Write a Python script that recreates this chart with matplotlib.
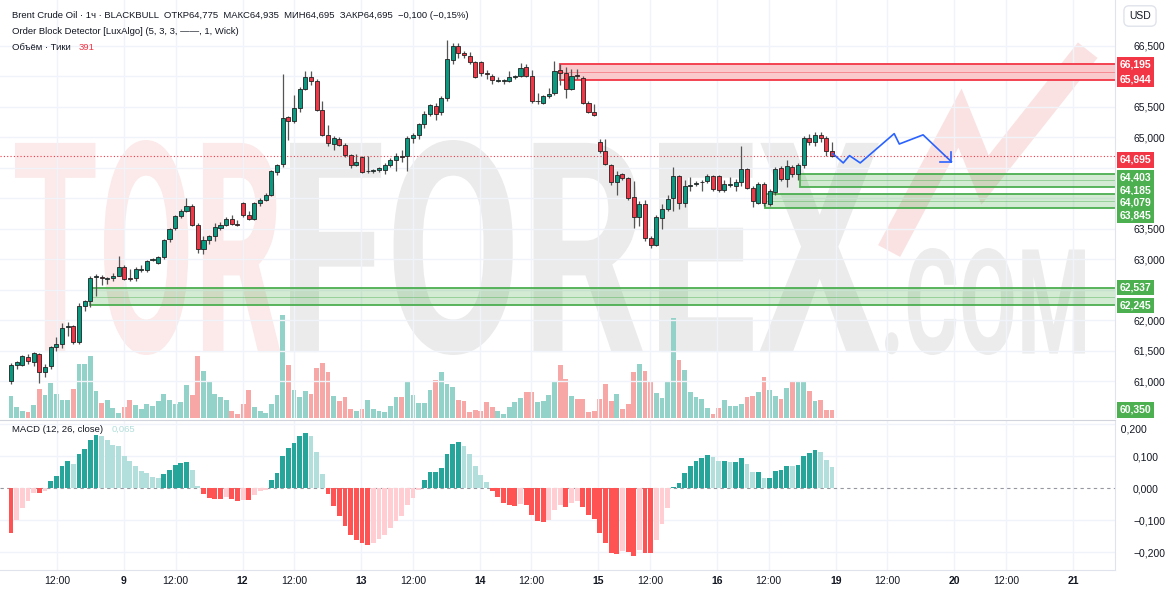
import matplotlib
matplotlib.use("Agg")
import matplotlib.pyplot as plt
import numpy as np
from matplotlib.textpath import TextPath
from matplotlib.patches import PathPatch, Rectangle
from matplotlib.font_manager import FontProperties
from matplotlib.transforms import Affine2D, blended_transform_factory
from matplotlib.lines import Line2D

# ---------------- data ----------------
opens = [61.00,61.27,61.27,61.40,61.31,61.45,61.15,61.26,61.57,61.62,61.89,61.91,61.65,62.23,62.31,62.71,62.71,62.68,62.69,62.73,
         62.88,62.69,62.69,62.83,62.82,62.99,62.94,63.04,63.33,63.51,63.71,63.79,63.88,63.57,63.17,63.32,63.38,63.51,63.57,63.66,
         63.58,63.92,63.73,63.66,63.93,63.98,64.06,64.43,64.57,65.33,65.26,65.48,65.79,65.99,65.93,65.44,65.04,64.89,64.98,64.88,
         64.71,64.55,64.68,64.44,64.44,64.46,64.47,64.55,64.63,64.69,64.69,64.99,65.04,65.21,65.39,65.52,65.41,65.64,66.27,66.49,
         66.38,66.34,66.23,66.23,66.06,66.01,65.93,65.92,65.92,65.99,66.00,66.15,66.01,65.59,65.57,65.67,65.72,66.10,66.05,65.79,
         66.02,65.97,65.56,65.42,64.93,64.78,64.55,64.26,64.40,64.33,64.02,63.70,63.91,63.35,63.24,63.68,63.82,64.00,64.36,63.92,
         64.20,64.24,64.26,64.28,64.36,64.36,64.13,64.22,64.20,64.26,64.48,64.17,63.92,64.24,63.91,64.11,64.50,64.31,64.52,64.40,
         64.55,64.99,64.93,65.04,64.99,64.77]
closes = [61.27,61.31,61.41,61.33,61.46,61.15,61.23,61.56,61.62,61.87,61.91,61.65,62.23,62.31,62.69,62.73,62.69,62.69,62.73,62.87,
          62.68,62.68,62.84,62.83,62.97,63.00,63.04,63.32,63.50,63.71,63.79,63.88,63.57,63.17,63.32,63.38,63.53,63.57,63.66,63.58,
          63.57,63.73,63.66,63.92,63.98,64.06,64.44,64.55,65.31,65.26,65.48,65.79,65.99,65.92,65.45,65.04,64.91,64.99,64.88,64.71,
          64.55,64.60,64.43,64.44,64.47,64.50,64.55,64.63,64.69,64.68,64.99,65.04,65.21,65.39,65.53,65.39,65.64,66.28,66.50,66.38,
          66.35,66.23,65.99,66.06,66.03,65.94,65.93,65.92,65.99,66.00,66.13,66.01,65.59,65.59,65.67,65.71,66.08,66.05,65.79,66.01,
          66.00,65.56,65.42,65.37,64.78,64.57,64.26,64.39,64.33,64.00,63.70,63.91,63.35,63.24,63.69,63.82,63.99,64.36,63.92,64.20,
          64.22,64.25,64.26,64.36,64.15,64.13,64.24,64.23,64.26,64.48,64.17,63.95,64.24,63.92,64.12,64.48,64.31,64.53,64.40,64.55,
          64.99,64.93,65.04,64.99,64.77,64.69]
highs = [61.30,61.33,61.43,61.45,61.48,61.47,61.28,61.58,61.72,61.95,61.98,61.93,62.28,62.33,62.72,62.76,62.74,62.71,62.78,63.05,
         62.90,62.84,62.88,62.90,62.99,63.03,63.05,63.33,63.52,63.73,63.82,64.00,63.90,63.60,63.38,63.40,63.60,63.62,63.70,63.72,
         63.65,63.94,63.80,63.94,64.00,64.08,64.46,64.57,66.03,65.35,65.70,65.82,66.08,66.08,65.95,65.60,65.20,65.02,65.00,64.90,
         64.73,64.72,64.70,64.70,64.48,64.52,64.58,64.66,64.75,64.80,65.02,65.07,65.24,65.43,65.55,65.56,65.68,66.60,66.55,66.55,
         66.42,66.40,66.25,66.25,66.10,66.03,65.98,65.96,66.08,66.02,66.22,66.20,66.10,65.72,65.70,65.80,66.25,66.20,66.15,66.12,
         66.12,66.00,65.60,65.55,64.98,64.98,64.57,64.45,64.42,64.35,64.28,63.96,63.98,63.38,63.72,63.90,64.05,64.52,64.38,64.30,
         64.35,64.28,64.30,64.40,64.38,64.38,64.30,64.35,64.32,64.85,64.50,64.20,64.27,64.26,64.16,64.52,64.53,64.62,64.55,64.58,
         65.02,65.05,65.08,65.08,65.02,64.93]
lows = [60.95,61.20,61.25,61.28,61.25,60.97,61.08,61.20,61.50,61.55,61.75,61.62,61.62,62.15,62.22,62.40,62.58,62.60,62.65,62.72,
        62.66,62.64,62.65,62.80,62.80,62.97,62.92,63.00,63.28,63.48,63.68,63.78,63.55,63.10,63.08,63.25,63.30,63.48,63.55,63.56,
        63.55,63.70,63.64,63.64,63.88,63.95,64.04,64.38,64.52,64.95,65.24,65.42,65.77,65.85,65.43,65.02,64.85,64.80,64.85,64.68,
        64.50,64.53,64.42,64.42,64.42,64.43,64.40,64.52,64.45,64.60,64.45,64.90,64.98,65.15,65.35,65.28,65.36,65.60,66.20,66.30,
        66.30,66.20,65.97,66.00,65.95,65.88,65.90,65.88,65.90,65.96,65.98,65.98,65.56,65.55,65.55,65.65,65.70,65.85,65.64,65.77,
        65.95,65.55,65.40,65.35,64.75,64.55,64.22,64.05,64.30,63.98,63.52,63.55,63.30,63.18,63.22,63.50,63.80,63.80,63.82,63.85,
        64.12,64.20,64.12,64.25,64.12,64.10,64.10,64.18,64.12,64.20,64.15,63.85,63.90,63.88,63.88,64.05,64.28,64.18,64.35,64.30,
        64.50,64.88,64.85,64.92,64.70,64.67]
volumes = [65,32,22,17,40,88,70,104,73,53,55,88,162,162,187,82,45,55,30,15,32,53,40,28,43,35,50,73,55,43,
           47,98,70,187,140,107,73,63,53,22,12,43,83,33,22,15,43,68,309,160,85,63,82,73,150,164,137,65,50,63,
           28,22,27,53,27,22,17,35,63,63,110,70,45,
           45,85,115,137,102,93,55,50,18,25,20,47,33,22,13,33,47,60,77,77,47,50,68,110,158,118,65,57,58,18,
           20,57,102,50,73,27,43,137,162,142,107,75,60,107,300,173,143,77,62,57,30,13,30,54,35,35,42,64,65,77,
           122,83,65,57,90,112,112,110,82,50,53,23,25]
macd_hist = [-0.14,-0.10,-0.063,-0.042,-0.016,-0.016,-0.01,0.021,0.039,0.068,0.086,0.076,0.106,0.122,0.151,0.165,0.161,0.149,0.135,0.13,
             0.101,0.083,0.068,0.052,0.047,0.036,0.031,0.044,0.057,0.073,0.078,0.081,0.057,0.007,-0.018,-0.031,-0.033,-0.034,-0.028,-0.034,
             -0.04,-0.036,-0.036,-0.021,-0.01,-0.005,0.026,0.047,0.101,0.125,0.141,0.161,0.172,0.164,0.113,0.044,-0.018,-0.055,-0.086,-0.118,
             -0.146,-0.161,-0.172,-0.177,-0.172,-0.159,-0.146,-0.125,-0.104,-0.086,-0.052,-0.031,-0.005,
             0.024,0.049,0.051,0.063,0.107,0.139,0.144,0.132,0.107,0.07,0.042,0.018,-0.01,-0.029,-0.047,-0.052,-0.055,-0.049,-0.054,-0.085,
             -0.104,-0.107,-0.101,-0.07,-0.054,-0.059,-0.047,-0.042,-0.06,-0.083,-0.097,-0.139,-0.172,-0.203,-0.205,-0.198,-0.201,-0.211,-0.193,-0.203,
             -0.203,-0.161,-0.112,-0.063,0.002,0.016,0.047,0.068,0.083,0.094,0.102,0.096,0.086,0.086,0.082,0.082,0.094,0.076,0.051,0.051,
             0.031,0.031,0.052,0.055,0.07,0.068,0.072,0.099,0.109,0.118,0.112,0.089,0.066]
forecast_x = [145.2,147.0,148.1,150.0,156.0,156.9,161.1,166.1]
forecast_y = [64.73,64.58,64.70,64.58,65.06,64.89,65.04,64.60]
day_labels = ["9","12","13","14","15","16","19","20","21"]
zones_red = [(66.195, 65.944, 97)]
zones_green = [(62.537, 62.245, 14), (64.403, 64.185, 139.4), (64.079, 63.845, 133.2)]
last_price = 64.695
volume_label = "60,350"

# ---------------- figure ----------------
W, H = 1170, 600
fig = plt.figure(figsize=(W/100, H/100), dpi=100)
fig.patch.set_facecolor("white")
plt.rcParams["font.family"] = "Liberation Sans"
TXT = "#131722"
GRID = "#f0f3fa"
FS = 7.5

def fx(px): return px / W
def fy(py): return 1 - py / H

ax_w = fx(1115)
ax = fig.add_axes([0.0, fy(418), ax_w, 418/H])
axm = fig.add_axes([0.0, fy(570), ax_w, 150/H], sharex=ax)
axv = ax.twinx()
for a in (ax, axm, axv):
    a.set_facecolor("none")
ax.set_zorder(3); axv.set_zorder(2); axm.set_zorder(3)

# watermark (figure pixel coordinates)
fp = FontProperties(family="Roboto", weight="bold")
def watermark(txt, x0, y0, x1, y1, color):
    tp = TextPath((0, 0), txt, size=100, prop=fp)
    bb = tp.get_extents()
    tr = (Affine2D().translate(-bb.x0, -bb.y0)
          .scale((x1 - x0) / bb.width, (y1 - y0) / bb.height)
          .translate(x0, H - y1).scale(1 / W, 1 / H)) + fig.transFigure
    fig.add_artist(PathPatch(tp, transform=tr, facecolor=color, edgecolor="none", zorder=0))
watermark("TOR", 15, 140, 280, 355, "#fce9e9")
watermark("FOREX", 290, 140, 880, 355, "#ebebeb")
watermark(".COM", 885, 248, 1085, 355, "#ececec")
chk = Line2D([fx(895), fx(960), fx(985), fx(1080)], [fy(240), fy(118), fy(180), fy(60)],
             transform=fig.transFigure, color="#fbe2e2", lw=18, solid_joinstyle="miter", zorder=0)
fig.add_artist(chk)

n = len(closes)
xs = np.arange(n)
xlim = (-1.94, 195.0)
ax.set_xlim(*xlim)
ax.set_ylim(60.40, 67.25)
axm.set_ylim(-0.256, 0.2125)
axv.set_ylim(0, 1254)

# ticks / grid
day_pos = [19.96 + 20.95 * k for k in range(len(day_labels))]
noon_pos = [8.13 + 20.95 * k for k in range(len(day_labels))]
for p in day_pos + noon_pos:
    ax.axvline(p, color=GRID, lw=1, zorder=0)
    axm.axvline(p, color=GRID, lw=1, zorder=0)
pticks = np.arange(61.0, 66.51, 0.5)
for p in pticks:
    ax.axhline(p, color=GRID, lw=1, zorder=0)
for p in [-0.2, -0.1, 0.1, 0.2]:
    axm.axhline(p, color=GRID, lw=1, zorder=0)

boxed = [last_price] + [v for z in zones_red + zones_green for v in z[:2]]
shown = [p for p in pticks if min(abs(p - b) for b in boxed) > 0.1]
ax.yaxis.tick_right()
ax.set_yticks(shown)
ax.set_yticklabels([f"{p:.3f}".replace(".", ",") for p in shown], fontsize=FS, color=TXT)
ax.tick_params(axis="y", length=0, pad=13)
ax.tick_params(axis="x", bottom=False, labelbottom=False)
axv.set_yticks([]); axv.tick_params(length=0)
axm.yaxis.tick_right()
mt = [0.1, 0.0, -0.1, -0.2]
axm.set_yticks(mt)
axm.set_yticklabels([f"{v:.3f}".replace(".", ",").replace("-", "\u2212") for v in mt], fontsize=FS, color=TXT)
axm.tick_params(axis="y", length=0, pad=13)
axm.text(1.0, 0.2, "  0,200", transform=blended_transform_factory(axm.transAxes, axm.transData),
         fontsize=FS, color=TXT, va="top", ha="left", clip_on=False)
xt = sorted([(p, l) for p, l in zip(day_pos, day_labels)] + [(p, "12:00") for p in noon_pos])
axm.set_xticks([p for p, _ in xt])
axm.set_xticklabels([l for _, l in xt], fontsize=FS, color=TXT)
for t, (_, l) in zip(axm.get_xticklabels(), xt):
    if l != "12:00":
        t.set_fontweight("bold")
axm.tick_params(axis="x", length=0, pad=4)

for a in (ax, axm, axv):
    for s in a.spines.values():
        s.set_visible(False)
ax.spines["right"].set_visible(True); ax.spines["right"].set_color("#e0e3eb")
axm.spines["right"].set_visible(True); axm.spines["right"].set_color("#e0e3eb")
axm.spines["top"].set_visible(True); axm.spines["top"].set_color("#d1d4dc")
axm.spines["bottom"].set_visible(True); axm.spines["bottom"].set_color("#e0e3eb")

# volume
up = np.array(closes) >= np.array(opens)
axv.bar(xs, volumes, width=0.85, color=np.where(up, "#92d2c8", "#f7a8a6"), zorder=1)

# zones
x_right = xlim[1] + 3
def zone(top, bot, x0, edge, face):
    ax.add_patch(Rectangle((x0, bot), x_right - x0, top - bot, facecolor=face, edgecolor=edge, lw=1.3, zorder=2))
    ax.plot([x0, x_right], [(top + bot) / 2] * 2, color=edge, lw=0.6, alpha=0.5, zorder=2)
for top, bot, x0 in zones_red:
    zone(top, bot, x0, "#f23645", "#f9c9cc")
for top, bot, x0 in zones_green:
    zone(top, bot, x0, "#4caf50", (0.30, 0.69, 0.31, 0.25))

# candles
ax.vlines(xs, lows, highs, color="#555555", lw=0.9, zorder=4)
body_b = np.minimum(opens, closes)
body_h = np.maximum(np.abs(np.array(closes) - np.array(opens)), 0.012)
ax.bar(xs, body_h, bottom=body_b, width=0.72, color=np.where(up, "#089981", "#f23645"),
       edgecolor="#222222", linewidth=0.6, zorder=5)

# last price line
ax.axhline(last_price, color="#f23645", lw=0.8, ls=(0, (1, 2)), zorder=3)

# forecast
ax.plot(forecast_x, forecast_y, color="#2962ff", lw=1.2, zorder=6)
ex, ey = forecast_x[-1], forecast_y[-1]
ax.plot([ex - 2.0, ex], [ey, ey], color="#2962ff", lw=1.2, zorder=6)
ax.plot([ex, ex], [ey, ey + 0.16], color="#2962ff", lw=1.2, zorder=6)

# macd
mh = np.array(macd_hist)
prev = np.concatenate([[mh[0]], mh[:-1]])
cols = np.where(mh >= 0, np.where(mh >= prev, "#26a69a", "#b2dfdb"),
                np.where(mh <= prev, "#ff5252", "#ffcdd2"))
axm.axhline(0, color="#9598a1", lw=0.8, ls=(0, (3, 3)), zorder=1)
axm.bar(xs, mh, width=0.85, color=cols, zorder=2)

# price labels on axis (nudged apart like the reference, offsets in pixels downward)
btr = blended_transform_factory(ax.transAxes, ax.transData)
def plabel(val, color, nudge=0, txt=None, y=None, tr=btr):
    ax.annotate(txt or f"{val:.3f}".replace(".", ","), xy=(1.004, val if y is None else y), xycoords=tr,
                xytext=(0, -nudge * 0.72), textcoords="offset points", fontsize=FS,
                color="white", va="center", ha="left", zorder=20, annotation_clip=False, fontweight="bold",
                bbox=dict(boxstyle="square,pad=0.25", fc=color, ec="none"))
nudges = {66.195: 0, 65.944: 0, 64.403: 4, 64.185: 3, 64.079: 9, 63.845: 8, 62.537: 0, 62.245: 0}
for top, bot, _ in zones_red:
    plabel(top, "#f23645", nudges[top]); plabel(bot, "#f23645", nudges[bot])
for top, bot, _ in zones_green:
    plabel(top, "#4caf50", nudges[top]); plabel(bot, "#4caf50", nudges[bot])
plabel(last_price, "#f23645", 4)
plabel(None, "#4caf50", txt=volume_label, y=8/418, tr=ax.transAxes)

# texts
fig.text(fx(12), fy(15), "Brent Crude Oil \u00b7 1ч \u00b7 BLACKBULL  ОТКР64,775  МАКС64,935  МИН64,695  ЗАКР64,695  \u22120,100 (\u22120,15%)",
         fontsize=6.8, color=TXT, va="center")
fig.text(fx(12), fy(31), "Order Block Detector [LuxAlgo] (5, 3, 3, \u2014\u2014, 1, Wick)", fontsize=6.8, color=TXT, va="center")
fig.text(fx(12), fy(47), "Объём \u00b7 Тики", fontsize=6.8, color=TXT, va="center")
fig.text(fx(79), fy(47), "391", fontsize=6.8, color="#f23645", va="center")
fig.text(fx(12), fy(429), "MACD (12, 26, close)", fontsize=6.8, color=TXT, va="center")
fig.text(fx(112), fy(429), "0,065", fontsize=6.8, color="#b2dfdb", va="center")
fig.text(fx(1140), fy(16), "USD", fontsize=FS, color=TXT, va="center", ha="center",
         bbox=dict(boxstyle="round,pad=0.5", fc="white", ec="#e0e3eb"))

fig.savefig("out.png", dpi=100, facecolor="white")
